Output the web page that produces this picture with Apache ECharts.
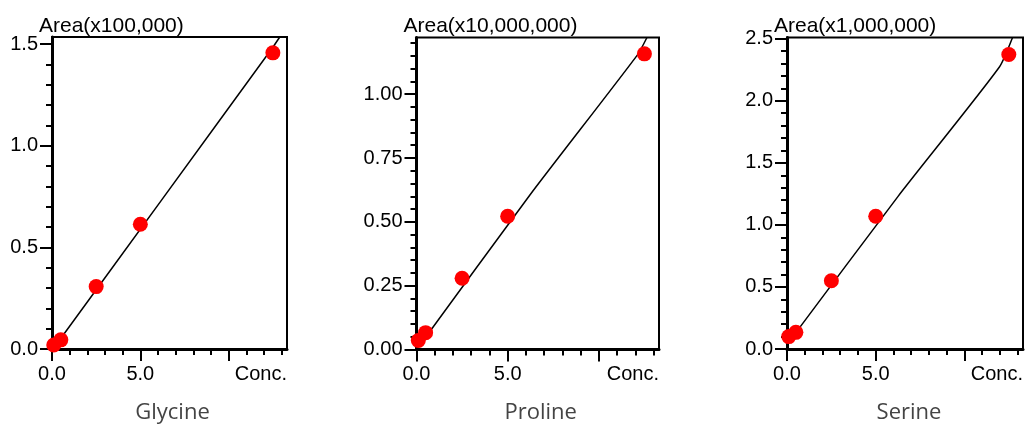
<!DOCTYPE html>
<html>
<head>
<meta charset="utf-8">
<title>Calibration curves</title>
<script src="https://cdn.jsdelivr.net/npm/echarts@6/dist/echarts.min.js"></script>
<style>
  html, body { margin: 0; padding: 0; background: #ffffff; }
  #chart { width: 1026px; height: 425px; }
</style>
</head>
<body>
<div id="chart"></div>
<script>
// Standard concentrations (x) shared by the three calibrations
const concentrations = [0.1, 0.5, 2.5, 5.0, 12.5];

// Measured peak areas, in the unit given by each panel's axis title
const glycineArea = [0.02, 0.045, 0.307, 0.614, 1.457];
const prolineArea = [0.035, 0.066, 0.279, 0.522, 1.158];
const serineArea = [0.10, 0.134, 0.55, 1.07, 2.373];

// Calibration curve vertices
const glycineFitConc = [0.1, 6.22, 12.51, 12.89];
const glycineFitArea = [0.005, 0.735, 1.486, 1.535];
const prolineFitConc = [0.1, 6.23, 12.12, 12.64];
const prolineFitArea = [0.009, 0.606, 1.154, 1.222];
const serineFitConc = [0.1, 6.26, 11.96, 12.71];
const serineFitArea = [0.055, 1.23, 2.27, 2.51];

// Axis ticks and labels
const concTicks = [0, 5, 10];
const concLabels = [0, 5];
const glycineTicks = [0, 0.5, 1.0, 1.5];
const prolineTicks = [0, 0.25, 0.5, 0.75, 1.0];
const serineTicks = [0, 0.5, 1.0, 1.5, 2.0, 2.5];

const compounds = ['Glycine', 'Proline', 'Serine'];
const areaUnits = ['Area(x100,000)', 'Area(x10,000,000)', 'Area(x1,000,000)'];

const pairs = (xs, ys) => xs.map((x, i) => [x, ys[i]]);

const panels = [
  { grid: { left: 52, top: 37, width: 235, height: 312 }, yMax: 1.535, yInterval: 0.5, yTicks: glycineTicks, digits: 1,
    pts: pairs(concentrations, glycineArea), fit: pairs(glycineFitConc, glycineFitArea) },
  { grid: { left: 416.5, top: 37.5, width: 242.5, height: 312 }, yMax: 1.222, yInterval: 0.25, yTicks: prolineTicks, digits: 2,
    pts: pairs(concentrations, prolineArea), fit: pairs(prolineFitConc, prolineFitArea) },
  { grid: { left: 787, top: 37.5, width: 238, height: 311.5 }, yMax: 2.51, yInterval: 0.5, yTicks: serineTicks, digits: 1,
    pts: pairs(concentrations, serineArea), fit: pairs(serineFitConc, serineFitArea) }
];

const FONT = '"Liberation Sans", Arial, sans-serif';
const tickLine = { color: '#000', width: 2 };

const option = {
  backgroundColor: '#ffffff',
  animation: false,
  title: [],
  grid: [],
  xAxis: [],
  yAxis: [],
  series: []
};

panels.forEach((p, i) => {
  option.grid.push(Object.assign({ show: true, borderColor: '#000', borderWidth: 2, containLabel: false }, p.grid));

  option.xAxis.push({
    type: 'value', gridIndex: i, min: 0, max: 13.3, interval: 5,
    axisLine: { show: true, onZero: false, lineStyle: { color: '#000', width: 3 } },
    axisTick: { show: true, length: 12, customValues: concTicks, lineStyle: tickLine },
    minorTick: { show: true, splitNumber: 5, length: 6, lineStyle: tickLine },
    splitLine: { show: false },
    axisLabel: { show: true, customValues: concLabels, margin: 15, color: '#000', fontFamily: FONT, fontSize: 20,
      formatter: v => v.toFixed(1) },
    name: 'Conc.', nameLocation: 'end', nameGap: 0,
    nameTextStyle: { color: '#000', fontFamily: FONT, fontSize: 20, align: 'right', verticalAlign: 'top', padding: [15, 0, 0, 0] }
  });

  option.yAxis.push({
    type: 'value', gridIndex: i, min: 0, max: p.yMax, interval: p.yInterval,
    axisLine: { show: true, onZero: false, lineStyle: { color: '#000', width: 3 } },
    axisTick: { show: true, length: 12, customValues: p.yTicks, lineStyle: tickLine },
    minorTick: { show: true, splitNumber: 5, length: 6, lineStyle: tickLine },
    splitLine: { show: false },
    axisLabel: { show: true, customValues: p.yTicks, margin: 14, color: '#000', fontFamily: FONT, fontSize: 20,
      formatter: v => v.toFixed(p.digits) }
  });

  // axis title above the y axis
  option.title.push({
    text: areaUnits[i], left: p.grid.left - 13, top: 16, padding: 0,
    textStyle: { color: '#000', fontFamily: FONT, fontSize: 21, fontWeight: 'normal' }
  });
  // compound name under the panel
  option.title.push({
    text: compounds[i], left: p.grid.left + p.grid.width / 2 + 3, top: 402, padding: 0, textAlign: 'center',
    textStyle: { color: '#444', fontFamily: '"Open Sans", "Noto Sans", sans-serif', fontSize: 22, fontWeight: 'normal' }
  });

  option.series.push({
    type: 'line', xAxisIndex: i, yAxisIndex: i, data: p.fit, symbol: 'none', smooth: 0.2,
    lineStyle: { color: '#000', width: 1.5 }, z: 2, clip: false
  });
  option.series.push({
    type: 'scatter', xAxisIndex: i, yAxisIndex: i, data: p.pts, symbol: 'circle', symbolSize: 15,
    itemStyle: { color: '#ff0000', opacity: 1 }, z: 3, clip: false
  });
});

const chart = echarts.init(document.getElementById('chart'), null, { renderer: 'canvas' });
chart.setOption(option);
</script>
</body>
</html>
